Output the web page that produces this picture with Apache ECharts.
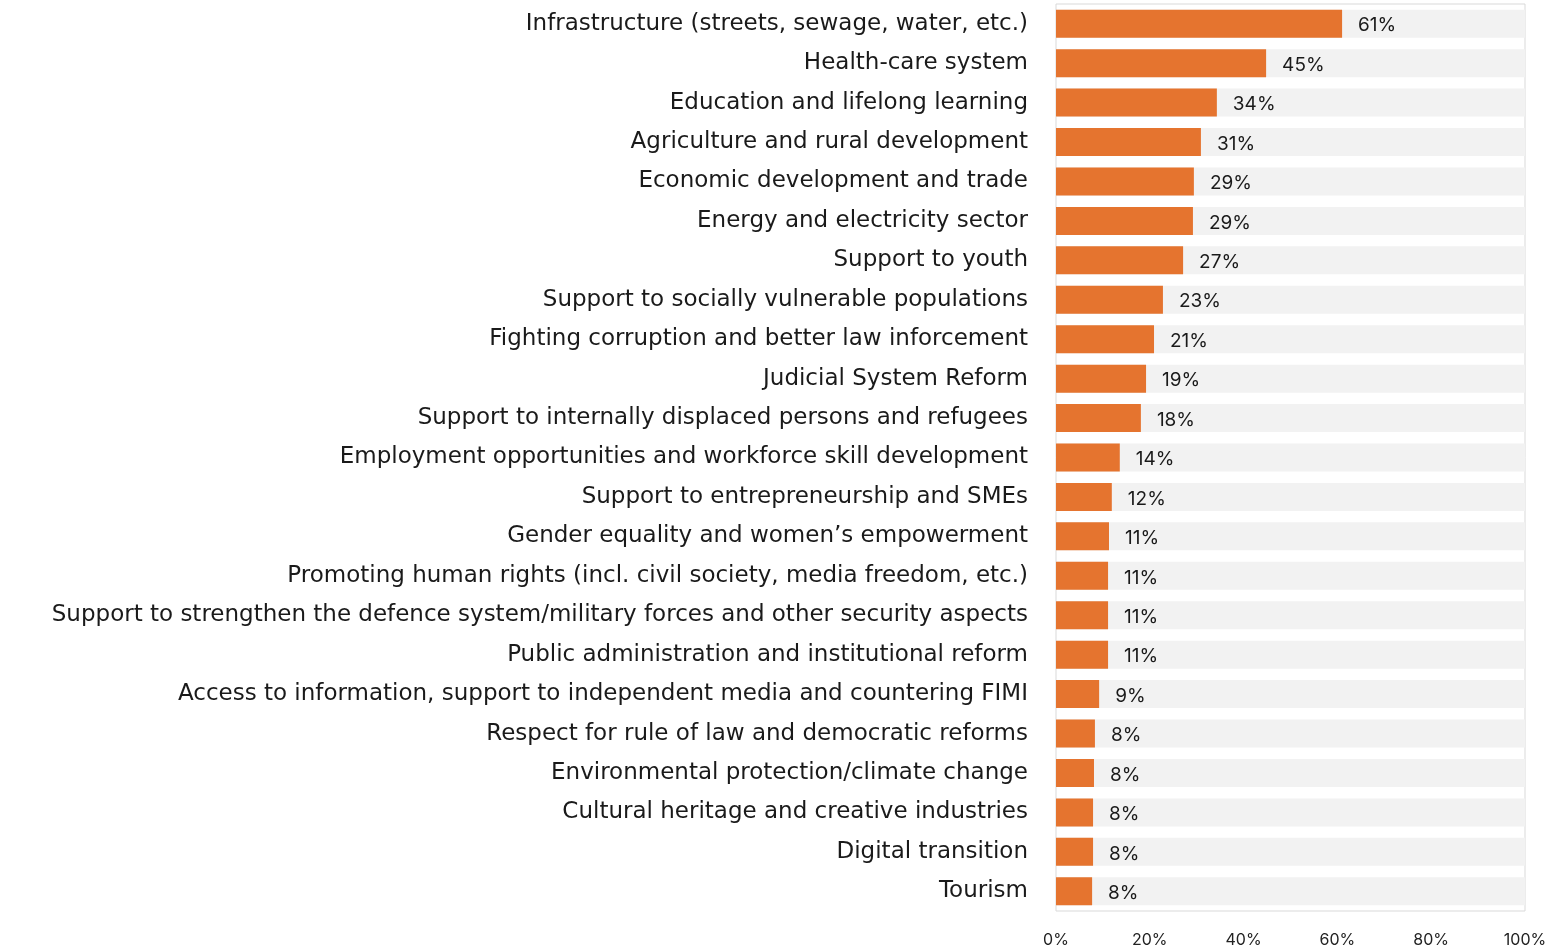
<!DOCTYPE html>
<html lang="en">
  <head>
    <meta charset="UTF-8" />
    <title>ECharts</title>
    <script src="https://cdn.jsdelivr.net/npm/echarts@6/dist/echarts.min.js"></script>
    <style>
      html, body { margin: 0; padding: 0; background: #fff; }
    </style>
  </head>
  <body>
    <div id="main" style="width: 1550px; height: 951px"></div>
    <script type="text/javascript">
      // categories, top to bottom
      const categories = [
        "Infrastructure (streets, sewage, water, etc.)",
        "Health-care system",
        "Education and lifelong learning",
        "Agriculture and rural development",
        "Economic development and trade",
        "Energy and electricity sector",
        "Support to youth",
        "Support to socially vulnerable populations",
        "Fighting corruption and better law inforcement",
        "Judicial System Reform",
        "Support to internally displaced persons and refugees",
        "Employment opportunities and workforce skill development",
        "Support to entrepreneurship and SMEs",
        "Gender equality and women\u2019s empowerment",
        "Promoting human rights (incl. civil society, media freedom, etc.)",
        "Support to strengthen the defence system/military forces and other security aspects",
        "Public administration and institutional reform",
        "Access to information, support to independent media and countering FIMI",
        "Respect for rule of law and democratic reforms",
        "Environmental protection/climate change",
        "Cultural heritage and creative industries",
        "Digital transition",
        "Tourism",
      ];
      // share of respondents, percent
      const shares = [
        61.0, 44.8, 34.3, 30.9, 29.4, 29.2, 27.1, 22.8, 20.9, 19.2, 18.1, 13.6,
        11.9, 11.3, 11.1, 11.1, 11.1, 9.2, 8.3, 8.1, 7.9, 7.9, 7.7,
      ];
      const xTicks = [0, 20, 40, 60, 80, 100];

      var myChart = echarts.init(document.getElementById("main"));
      const catFont = "DejaVu Sans";
      const numFont = "Inter";
      const option = {
        animation: false,
        grid: {
          left: 1056,
          right: 25,
          top: 4,
          bottom: 40,
          show: true,
          borderColor: "#d9d9d9",
          borderWidth: 1,
          backgroundColor: "transparent",
        },
        xAxis: {
          type: "value",
          min: xTicks[0],
          max: xTicks[xTicks.length - 1],
          interval: 20,
          axisLine: { show: false },
          axisTick: { show: false },
          splitLine: { show: false },
          axisLabel: {
            formatter: "{value}%",
            color: "#222",
            fontFamily: numFont,
            fontSize: 16,
            margin: 21,
          },
        },
        yAxis: {
          type: "category",
          inverse: true,
          data: categories,
          axisLine: { show: false },
          axisTick: { show: false },
          axisLabel: {
            color: "#1a1a1a",
            fontFamily: catFont,
            fontSize: 23,
            margin: 28,
            padding: [3, 0, 0, 0],
          },
        },
        series: [
          {
            type: "bar",
            data: shares,
            barWidth: 28,
            itemStyle: { color: "#E5742F" },
            showBackground: true,
            backgroundStyle: { color: "#F2F2F2" },
            label: {
              show: true,
              position: "right",
              distance: 16,
              offset: [0, 2],
              color: "#1a1a1a",
              fontFamily: numFont,
              fontSize: 19,
              formatter: function (p) {
                return Math.round(p.value) + "%";
              },
            },
          },
        ],
      };
      myChart.setOption(option);
    </script>
  </body>
</html>
